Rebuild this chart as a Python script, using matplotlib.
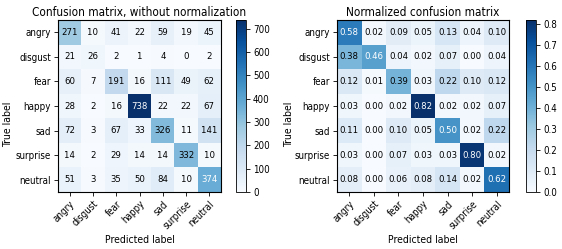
import matplotlib
matplotlib.use("Agg")
import matplotlib.pyplot as plt
from matplotlib import font_manager as fm
import numpy as np

classes = ["angry", "disgust", "fear", "happy", "sad", "surprise", "neutral"]

counts = [
    [271, 10, 41, 22, 59, 19, 45],
    [21, 26, 2, 1, 4, 0, 2],
    [60, 7, 191, 16, 111, 49, 62],
    [28, 2, 16, 738, 22, 22, 67],
    [72, 3, 67, 33, 326, 11, 141],
    [14, 2, 29, 14, 14, 332, 10],
    [51, 3, 35, 50, 84, 10, 374],
]

normalized = [
    [0.58, 0.02, 0.09, 0.05, 0.13, 0.04, 0.10],
    [0.38, 0.46, 0.04, 0.02, 0.07, 0.00, 0.04],
    [0.12, 0.01, 0.39, 0.03, 0.22, 0.10, 0.12],
    [0.03, 0.00, 0.02, 0.82, 0.02, 0.02, 0.07],
    [0.11, 0.00, 0.10, 0.05, 0.50, 0.02, 0.22],
    [0.03, 0.00, 0.07, 0.03, 0.03, 0.80, 0.02],
    [0.08, 0.00, 0.06, 0.08, 0.14, 0.02, 0.62],
]

# prefer a condensed face if one is installed
cond = fm.FontProperties(family="DejaVu Sans", stretch="condensed")
STRETCH = "condensed" if "ondensed" in fm.findfont(cond) else "normal"

W, H = 562, 249
fig = plt.figure(figsize=(W / 100, H / 100), dpi=100)


def px_axes(x0, y0, x1, y1):
    return fig.add_axes([x0 / W, 1 - y1 / H, (x1 - x0) / W, (y1 - y0) / H])


def draw(ax, cax, data, title, fmt, ticks, ylab_x):
    cm = np.array(data, dtype=float)
    im = ax.imshow(cm, interpolation="nearest", cmap=plt.cm.Blues, aspect="auto")
    ax.set_title(title, fontsize=8.5, pad=3, fontstretch=STRETCH)
    cb = fig.colorbar(im, cax=cax)
    cb.set_ticks(ticks)
    cb.ax.tick_params(labelsize=7, length=3, width=0.6, pad=2)
    for t in cb.ax.get_yticklabels():
        t.set_fontstretch(STRETCH)
    cb.outline.set_linewidth(0.6)
    n = len(classes)
    ax.set_xticks(range(n))
    ax.set_yticks(range(n))
    ax.set_xticklabels(classes, rotation=45, ha="right", rotation_mode="anchor",
                       fontsize=7, fontstretch=STRETCH)
    ax.set_yticklabels(classes, fontsize=7, fontstretch=STRETCH)
    ax.tick_params(length=3, width=0.6, pad=2)
    thresh = cm.max() / 2.0
    for i in range(n):
        for j in range(n):
            ax.text(j, i, format(cm[i, j], fmt), ha="center", va="center", fontsize=6.8,
                    fontstretch=STRETCH,
                    color="white" if cm[i, j] > thresh else "black")
    ax.set_ylabel("True label", fontsize=7.5, fontstretch=STRETCH)
    ax.yaxis.set_label_coords(ylab_x, 0.5, transform=fig.transFigure)
    ax.set_xlabel("Predicted label", fontsize=7.5, labelpad=3, fontstretch=STRETCH)
    for s in ax.spines.values():
        s.set_linewidth(0.8)


ax1 = px_axes(58, 20, 221, 192)
cax1 = px_axes(236, 20, 246, 192)
draw(ax1, cax1, counts, "Confusion matrix, without normalization", ".0f",
     [0, 100, 200, 300, 400, 500, 600, 700], 13 / W)

ax2 = px_axes(337, 20, 509, 192)
cax2 = px_axes(526, 20, 536, 192)
draw(ax2, cax2, normalized, "Normalized confusion matrix", ".2f",
     [0.0, 0.1, 0.2, 0.3, 0.4, 0.5, 0.6, 0.7, 0.8], 294 / W)

fig.savefig("out.png", dpi=100)
